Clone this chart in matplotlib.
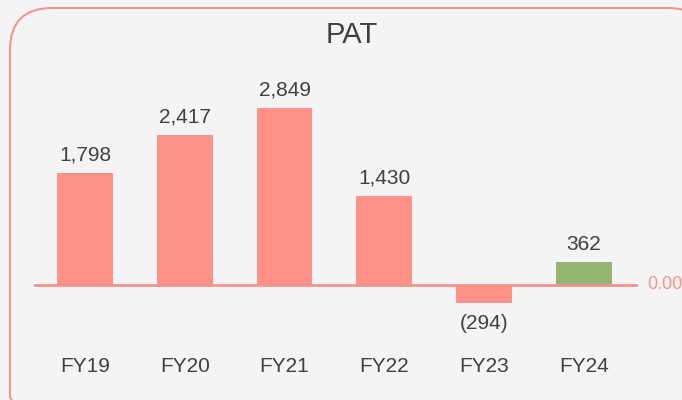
import matplotlib
matplotlib.use('Agg')
import matplotlib.pyplot as plt
from matplotlib.patches import FancyBboxPatch

plt.rcParams['font.family'] = ['Liberation Sans', 'DejaVu Sans']

# data
years = ['FY19', 'FY20', 'FY21', 'FY22', 'FY23', 'FY24']
pat = [1798, 2417, 2849, 1430, -294, 362]
barColors = ['#ff9189', '#ff9189', '#ff9189', '#ff9189', '#ff9189', '#96b574']

textColor = '#404040'
salmon = '#f7938a'

fig = plt.figure(figsize=(6.82, 4.0), dpi=100)
fig.patch.set_facecolor('#f4f4f6')

# rounded frame, drawn in pixel units
bg = fig.add_axes([0, 0, 1, 1])
bg.set_xlim(0, 682)
bg.set_ylim(400, 0)
bg.axis('off')
frame = FancyBboxPatch((10, 8), 700, 430,
                       boxstyle='round,pad=0,rounding_size=42',
                       facecolor='none', edgecolor=salmon, linewidth=1.5)
bg.add_patch(frame)
bg.text(352, 35, 'PAT', ha='center', va='center', fontsize=21,
        color=textColor)

ax = fig.add_axes([0.05, 0.175, 0.885, 0.70])
ax.patch.set_alpha(0)
x = list(range(len(years)))
ax.bar(x, pat, width=0.56, color=barColors, zorder=2)
ax.set_xlim(-0.51, 5.54)
ax.set_ylim(-725, 3784)
ax.axhline(0, color=salmon, linewidth=2, zorder=3)

for i, v in enumerate(pat):
    if v >= 0:
        ax.annotate(f'{v:,}', (i, v), xytext=(0, 18),
                    textcoords='offset pixels', ha='center', va='center',
                    fontsize=15, color=textColor)
    else:
        ax.annotate(f'({-v:,})', (i, v), xytext=(0, -20),
                    textcoords='offset pixels', ha='center', va='center',
                    fontsize=15, color=textColor)

for s in ax.spines.values():
    s.set_visible(False)
ax.set_yticks([])
ax.set_xticks([])

# category labels
for i, lab in enumerate(years):
    ax.annotate(lab, (i, 0), xycoords=('data', 'figure pixels'),
                xytext=(i, 33), textcoords=('data', 'figure pixels'),
                ha='center', va='center', fontsize=15, color=textColor)

ax.annotate('0.00', (1, 0), xycoords=('axes fraction', 'data'),
            xytext=(10, 0), textcoords='offset pixels',
            ha='left', va='center', fontsize=13, color=salmon)

fig.savefig('out.png', dpi=100, facecolor=fig.get_facecolor())
